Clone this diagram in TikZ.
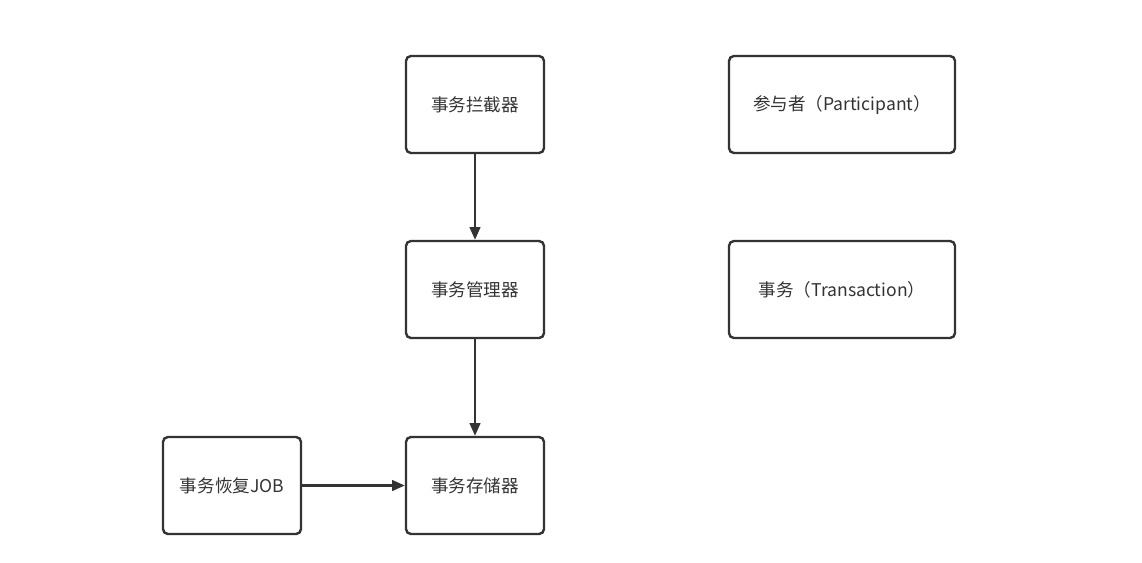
\documentclass[tikz,border=0pt]{standalone}
\usepackage{fontspec}
\setmainfont{Noto Sans CJK SC}
\usetikzlibrary{arrows.meta}
\definecolor{boxline}{HTML}{333333}

\begin{document}
\begin{tikzpicture}[
	box/.style={draw=boxline,line width=1.7pt,rounded corners=3.5pt,minimum width=3.45cm,minimum height=2.425cm,font=\fontsize{12.5}{15}\selectfont,text=boxline},
	widebox/.style={box,minimum width=5.65cm},
	link/.style={draw=boxline,line width=1.7pt,-{Triangle[length=9pt,width=7.5pt]}}
]
\useasboundingbox (0,0) rectangle (28.55,-14.05);
\node[box] (intc) at (11.875,-2.6125) {事务拦截器};
\node[box] (mgr) at (11.875,-7.2375) {事务管理器};
\node[box] (store) at (11.875,-12.1375) {事务存储器};
\node[box] (job) at (5.8,-12.1375) {事务恢复JOB};
\node[widebox] (part) at (21.05,-2.6125) {参与者（Participant）};
\node[widebox] (trans) at (21.05,-7.2375) {事务（Transaction）};
\draw[link] (intc) -- (mgr);
\draw[link] (mgr) -- (store);
\draw[link] (job) -- (store);
\end{tikzpicture}
\end{document}
